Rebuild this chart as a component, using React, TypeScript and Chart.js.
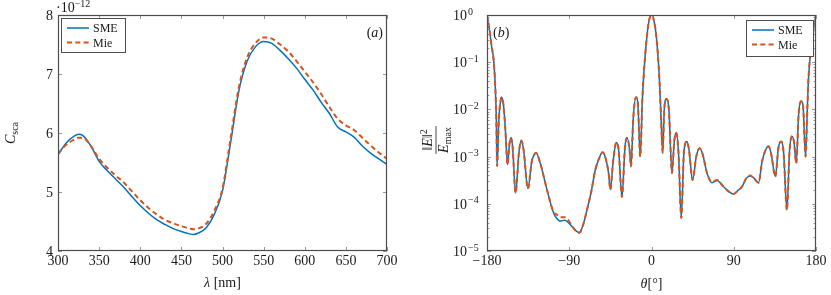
import React, { useEffect, useRef } from 'react';
import { Chart, registerables } from 'chart.js';
Chart.register(...registerables);

// ---------- Panel (a): scattering cross-section vs wavelength ----------
const lambdaNm = [300, 310, 320, 325, 330, 340, 350, 360, 370, 380, 390, 400, 410, 420, 430, 440, 450, 460, 465, 470, 480, 490, 500, 510, 520, 530, 540, 550, 560, 570, 580, 590, 600, 610, 620, 630, 640, 650, 660, 670, 680, 690, 700];
const smeCsca = [5.63, 5.83, 5.95, 5.98, 5.96, 5.78, 5.52, 5.36, 5.22, 5.08, 4.92, 4.77, 4.64, 4.53, 4.45, 4.38, 4.33, 4.29, 4.28, 4.30, 4.39, 4.62, 5.02, 5.85, 6.72, 7.22, 7.46, 7.55, 7.52, 7.40, 7.26, 7.10, 6.91, 6.73, 6.52, 6.33, 6.10, 6.02, 5.93, 5.78, 5.66, 5.56, 5.47];
const mieCsca = [5.65, 5.80, 5.89, 5.92, 5.92, 5.78, 5.56, 5.41, 5.28, 5.16, 5.01, 4.86, 4.73, 4.62, 4.53, 4.47, 4.42, 4.38, 4.37, 4.38, 4.46, 4.68, 5.06, 5.92, 6.78, 7.28, 7.52, 7.62, 7.60, 7.50, 7.38, 7.22, 7.04, 6.86, 6.66, 6.44, 6.24, 6.13, 6.05, 5.92, 5.79, 5.67, 5.56];
const lambdaTicks = [300, 350, 400, 450, 500, 550, 600, 650, 700];
const cscaTicks = [4, 5, 6, 7, 8];

// ---------- Panel (b): normalised far field vs angle ----------
const thetaDeg = [
  -180, -177, -175, -172.8, -171, -169.8, -169, -167, -165, -164, -162, -160, -157.5, -155.5, -153.8, -152,
  -148.7, -145, -142.5, -140, -135.2, -131, -128, -126.4, -121.7, -114.4, -107, -104, -100, -95, -92, -87,
  -83, -79, -75, -70.6, -66, -61.5, -57, -53.5, -50, -47, -45, -42, -38.5, -36, -32.3, -29,
  -26.8, -24, -22.4, -20, -17, -15, -12.3, -10, -8.6, -5.7, -3, 0, 3, 5.3,
  8.5, 10.5, 12.2, 14, 16.2, 19, 22.4, 25, 27.1, 29.5, 32.6, 35.5, 38.8, 41, 45, 49,
  52.6, 56, 60.7, 66.2, 71.7, 78.9, 84, 89.9, 95, 99, 104, 108, 112, 117.2, 121, 125,
  128.2, 131, 135.5, 139, 142, 144.5, 148.2, 151, 153.7, 156, 158.4, 161, 163.6, 165.7, 168.6, 170.5,
  171.9, 175.6, 178, 180,
];
const smeField = [
  1, 0.45, 0.22, 0.115, 0.032, 0.0063, 6.3e-4, 6.3e-3, 0.016, 0.018, 0.0126, 0.004, 6.8e-4, 1.8e-3, 2.5e-3, 1.6e-3,
  1.7e-4, 1.26e-3, 2.2e-3, 1.4e-3, 2.1e-4, 7.9e-4, 1.12e-3, 1.2e-3, 7.2e-4, 2.0e-4, 6.3e-5, 5.0e-5, 4.3e-5, 4.5e-5, 4.2e-5, 3.3e-5,
  2.7e-5, 2.45e-5, 3.5e-5, 7.4e-5, 1.78e-4, 5.2e-4, 9.5e-4, 1.23e-3, 8.9e-4, 4.5e-4, 2.0e-4, 7.9e-4, 2.0e-3, 1.4e-3, 1.4e-4, 1.6e-3,
  2.5e-3, 1.4e-3, 6.2e-4, 6.3e-3, 0.018, 0.014, 1.0e-3, 0.016, 0.05, 0.26, 0.71, 1, 0.71, 0.35,
  0.05, 6.3e-3, 1.2e-3, 0.01, 0.0166, 0.01, 4.5e-4, 2.2e-3, 3.2e-3, 1.26e-3, 5.0e-5, 1.26e-3, 2.1e-3, 1.4e-3, 3.2e-4, 1.0e-3,
  1.5e-3, 1.12e-3, 4.5e-4, 2.8e-4, 3.1e-4, 2.3e-4, 1.86e-4, 1.62e-4, 1.95e-4, 2.3e-4, 3.5e-4, 3.9e-4, 3.5e-4, 2.8e-4, 7.9e-4, 1.4e-3,
  1.66e-3, 1.12e-3, 3.8e-4, 1.6e-3, 2.1e-3, 1.26e-3, 7.4e-5, 1.26e-3, 2.7e-3, 2.0e-3, 7.2e-4, 7.9e-3, 0.0148, 0.0126, 1.0e-3, 0.01,
  0.05, 0.26, 0.63, 1,
];
const mieField = [
  1, 0.45, 0.22, 0.115, 0.032, 0.0063, 6.3e-4, 6.3e-3, 0.016, 0.018, 0.0126, 0.004, 6.8e-4, 1.8e-3, 2.5e-3, 1.6e-3,
  1.7e-4, 1.26e-3, 2.2e-3, 1.4e-3, 2.1e-4, 7.9e-4, 1.12e-3, 1.2e-3, 7.2e-4, 2.0e-4, 6.6e-5, 6.0e-5, 5.2e-5, 5.2e-5, 4.8e-5, 3.4e-5,
  2.7e-5, 2.45e-5, 3.5e-5, 7.4e-5, 1.78e-4, 5.2e-4, 9.5e-4, 1.23e-3, 8.9e-4, 4.5e-4, 2.0e-4, 7.9e-4, 2.0e-3, 1.4e-3, 1.4e-4, 1.6e-3,
  2.5e-3, 1.4e-3, 6.2e-4, 6.3e-3, 0.018, 0.014, 1.0e-3, 0.016, 0.05, 0.26, 0.71, 1, 0.71, 0.35,
  0.05, 6.3e-3, 1.2e-3, 0.01, 0.0166, 0.01, 4.5e-4, 2.2e-3, 3.2e-3, 1.26e-3, 5.0e-5, 1.26e-3, 2.1e-3, 1.4e-3, 3.2e-4, 1.0e-3,
  1.5e-3, 1.12e-3, 4.5e-4, 2.9e-4, 3.2e-4, 2.3e-4, 1.86e-4, 1.62e-4, 1.95e-4, 2.3e-4, 3.6e-4, 4.0e-4, 3.5e-4, 2.8e-4, 7.9e-4, 1.4e-3,
  1.66e-3, 1.12e-3, 3.8e-4, 1.6e-3, 2.1e-3, 1.26e-3, 7.4e-5, 1.26e-3, 2.7e-3, 2.0e-3, 7.2e-4, 7.9e-3, 0.0148, 0.0126, 1.0e-3, 0.01,
  0.05, 0.26, 0.63, 1,
];
const thetaTicks = [-180, -90, 0, 90, 180];
const fieldDecadeExps = [-5, -4, -3, -2, -1, 0];

const BLUE = '#0072BD';
const ORANGE = '#D95319';
const SERIF = '"Liberation Serif", "DejaVu Serif", serif';
const TXT = '#1a1a1a';
const DASH = [5, 3.3];
const FS = 14;
const SUB = 10;

type Seg = { t: string; it?: boolean; sz?: number; dy?: number };

function drawRich(ctx: CanvasRenderingContext2D, segs: Seg[], x: number, y: number, align: 'left' | 'center' | 'right', base = FS) {
  const font = (s: Seg) => `${s.it ? 'italic ' : ''}${s.sz ?? base}px ${SERIF}`;
  const widths = segs.map((s) => {
    ctx.font = font(s);
    return ctx.measureText(s.t).width;
  });
  const total = widths.reduce((a, b) => a + b, 0);
  let cx = align === 'left' ? x : align === 'center' ? x - total / 2 : x - total;
  ctx.textAlign = 'left';
  ctx.textBaseline = 'alphabetic';
  segs.forEach((s, i) => {
    ctx.font = font(s);
    ctx.fillText(s.t, cx, y + (s.dy ?? 0));
    cx += widths[i];
  });
  return total;
}

function measureRich(ctx: CanvasRenderingContext2D, segs: Seg[], base = FS) {
  let w = 0;
  segs.forEach((s) => {
    ctx.font = `${s.it ? 'italic ' : ''}${s.sz ?? base}px ${SERIF}`;
    w += ctx.measureText(s.t).width;
  });
  return w;
}

function drawFrame(ctx: CanvasRenderingContext2D, ca: any) {
  ctx.strokeStyle = '#4d4d4d';
  ctx.lineWidth = 1.2;
  ctx.setLineDash([]);
  ctx.strokeRect(ca.left + 0.5, ca.top + 0.5, ca.right - ca.left - 1, ca.bottom - ca.top - 1);
}

function drawLegend(ctx: CanvasRenderingContext2D, left: number, top: number, w: number, h: number) {
  ctx.save();
  ctx.fillStyle = '#fff';
  ctx.fillRect(left, top, w, h);
  ctx.strokeStyle = '#4d4d4d';
  ctx.lineWidth = 1;
  ctx.strokeRect(left + 0.5, top + 0.5, w, h);
  const rows = [
    { label: 'SME', color: BLUE, dash: [] as number[], lw: 1.5 },
    { label: 'Mie', color: ORANGE, dash: DASH, lw: 2 },
  ];
  rows.forEach((r, i) => {
    const y = top + 10 + i * 14.5;
    ctx.beginPath();
    ctx.strokeStyle = r.color;
    ctx.lineWidth = r.lw;
    ctx.setLineDash(r.dash);
    ctx.moveTo(left + 6, y);
    ctx.lineTo(left + 28, y);
    ctx.stroke();
    ctx.setLineDash([]);
    ctx.fillStyle = TXT;
    drawRich(ctx, [{ t: r.label }], left + 32, y + 4, 'left', 12);
  });
  ctx.restore();
}

const panelAPlugin = {
  id: 'panelA',
  afterDraw(chart: any) {
    const { ctx, chartArea: ca } = chart;
    const x = chart.scales.x;
    const y = chart.scales.y;
    ctx.save();
    ctx.strokeStyle = '#9a9a9a';
    ctx.lineWidth = 1;
    lambdaTicks.forEach((v) => {
      const px = Math.round(x.getPixelForValue(v)) + 0.5;
      ctx.beginPath();
      ctx.moveTo(px, ca.bottom);
      ctx.lineTo(px, ca.bottom - 4);
      ctx.moveTo(px, ca.top);
      ctx.lineTo(px, ca.top + 4);
      ctx.stroke();
    });
    cscaTicks.forEach((v) => {
      const py = Math.round(y.getPixelForValue(v)) + 0.5;
      ctx.beginPath();
      ctx.moveTo(ca.left, py);
      ctx.lineTo(ca.left + 4, py);
      ctx.moveTo(ca.right, py);
      ctx.lineTo(ca.right - 4, py);
      ctx.stroke();
    });
    drawFrame(ctx, ca);
    ctx.fillStyle = TXT;
    lambdaTicks.forEach((v) => {
      drawRich(ctx, [{ t: String(v) }], x.getPixelForValue(v), ca.bottom + 14, 'center');
    });
    cscaTicks.forEach((v) => {
      drawRich(ctx, [{ t: String(v) }], ca.left - 5, y.getPixelForValue(v) + 5, 'right');
    });
    // exponent marker
    drawRich(ctx, [{ t: '·10' }, { t: '−12', sz: SUB, dy: -5 }], ca.left - 2, 12, 'left');
    // axis titles
    drawRich(ctx, [{ t: 'λ', it: true }, { t: ' [nm]' }], (ca.left + ca.right) / 2, ca.bottom + 36, 'center');
    ctx.save();
    ctx.translate(15, 133);
    ctx.rotate(-Math.PI / 2);
    drawRich(ctx, [{ t: 'C', it: true }, { t: 'sca', sz: SUB, dy: 3 }], 0, 0, 'center');
    ctx.restore();
    // panel tag
    drawRich(ctx, [{ t: '(' }, { t: 'a', it: true }, { t: ')' }], ca.right - 4, 37, 'right');
    drawLegend(ctx, ca.left + 3, ca.top + 3, 64, 34);
    ctx.restore();
  },
};

const panelBPlugin = {
  id: 'panelB',
  afterDraw(chart: any) {
    const { ctx, chartArea: ca } = chart;
    const x = chart.scales.x;
    const y = chart.scales.y;
    ctx.save();
    ctx.strokeStyle = '#9a9a9a';
    ctx.lineWidth = 1;
    thetaTicks.forEach((v) => {
      const px = Math.round(x.getPixelForValue(v)) + 0.5;
      ctx.beginPath();
      ctx.moveTo(px, ca.bottom);
      ctx.lineTo(px, ca.bottom - 4);
      ctx.moveTo(px, ca.top);
      ctx.lineTo(px, ca.top + 4);
      ctx.stroke();
    });
    fieldDecadeExps.forEach((e) => {
      const py = Math.round(y.getPixelForValue(Math.pow(10, e))) + 0.5;
      ctx.beginPath();
      ctx.moveTo(ca.left, py);
      ctx.lineTo(ca.left + 4, py);
      ctx.moveTo(ca.right, py);
      ctx.lineTo(ca.right - 4, py);
      ctx.stroke();
      if (e < 0) {
        for (let m = 2; m <= 9; m++) {
          const pm = Math.round(y.getPixelForValue(m * Math.pow(10, e))) + 0.5;
          ctx.beginPath();
          ctx.moveTo(ca.left, pm);
          ctx.lineTo(ca.left + 2.5, pm);
          ctx.moveTo(ca.right, pm);
          ctx.lineTo(ca.right - 2.5, pm);
          ctx.stroke();
        }
      }
    });
    drawFrame(ctx, ca);
    ctx.fillStyle = TXT;
    thetaTicks.forEach((v) => {
      const s = v < 0 ? '−' + Math.abs(v) : String(v);
      drawRich(ctx, [{ t: s }], x.getPixelForValue(v), ca.bottom + 14, 'center');
    });
    fieldDecadeExps.forEach((e) => {
      const py = y.getPixelForValue(Math.pow(10, e)) + 5;
      drawRich(ctx, [{ t: '10' }], ca.left - 20, py, 'right');
      const sup = e < 0 ? '−' + Math.abs(e) : String(e);
      drawRich(ctx, [{ t: sup, sz: SUB }], ca.left - 19, py - 5.5, 'left');
    });
    drawRich(ctx, [{ t: 'θ', it: true }, { t: '[°]' }], (ca.left + ca.right) / 2, ca.bottom + 37, 'center');
    // fraction title
    ctx.save();
    ctx.translate(ca.left - 51, 140);
    ctx.rotate(-Math.PI / 2);
    const num: Seg[] = [{ t: '‖' }, { t: 'E', it: true }, { t: '‖' }, { t: '2', sz: SUB, dy: -5.5 }];
    const den: Seg[] = [{ t: 'E', it: true }, { t: 'max', sz: SUB, dy: 3 }];
    const wn = measureRich(ctx, num);
    const wd = measureRich(ctx, den);
    drawRich(ctx, num, 0, -4, 'center');
    drawRich(ctx, den, 0, 11.5, 'center');
    const bw = Math.max(wn, wd) + 2;
    ctx.strokeStyle = TXT;
    ctx.lineWidth = 0.8;
    ctx.beginPath();
    ctx.moveTo(-bw / 2, 0);
    ctx.lineTo(bw / 2, 0);
    ctx.stroke();
    ctx.restore();
    drawRich(ctx, [{ t: '(' }, { t: 'b', it: true }, { t: ')' }], ca.left + 6, 37, 'left');
    drawLegend(ctx, ca.right - 70, ca.top + 5, 67, 36);
    ctx.restore();
  },
};

function makeChart(canvas: HTMLCanvasElement, xs: number[], a: number[], b: number[], xOpt: any, yOpt: any, yWidth: number, padRight: number, plugin: any) {
  return new Chart(canvas, {
    type: 'line',
    data: {
      datasets: [
        {
          label: 'SME',
          data: xs.map((v, i) => ({ x: v, y: a[i] })),
          borderColor: BLUE,
          borderWidth: 1.5,
          pointRadius: 0,
          cubicInterpolationMode: 'monotone',
          fill: false,
          order: 2,
        },
        {
          label: 'Mie',
          data: xs.map((v, i) => ({ x: v, y: b[i] })),
          borderColor: ORANGE,
          borderWidth: 2,
          borderDash: DASH,
          pointRadius: 0,
          cubicInterpolationMode: 'monotone',
          fill: false,
          order: 1,
        },
      ],
    },
    options: {
      animation: false,
      responsive: false,
      maintainAspectRatio: false,
      layout: { padding: { top: 15, right: padRight, left: 0, bottom: 0 } },
      plugins: { legend: { display: false }, tooltip: { enabled: false } },
      scales: {
        x: {
          type: 'linear',
          ...xOpt,
          grid: { display: false },
          border: { display: false },
          ticks: { display: false },
          afterFit: (s: any) => {
            s.height = 44;
          },
        },
        y: {
          ...yOpt,
          grid: { display: false },
          border: { display: false },
          ticks: { display: false },
          afterFit: (s: any) => {
            s.width = yWidth;
          },
        },
      },
    } as any,
    plugins: [plugin],
  });
}

export default function App() {
  const refA = useRef<HTMLCanvasElement>(null);
  const refB = useRef<HTMLCanvasElement>(null);
  useEffect(() => {
    const cA = makeChart(refA.current!, lambdaNm, smeCsca, mieCsca, { min: 300, max: 700 }, { type: 'linear', min: 4, max: 8 }, 58, 28, panelAPlugin);
    const cB = makeChart(refB.current!, thetaDeg, smeField, mieField, { min: -180, max: 180 }, { type: 'logarithmic', min: 1e-5, max: 1 }, 72, 15, panelBPlugin);
    return () => {
      cA.destroy();
      cB.destroy();
    };
  }, []);
  return (
    <div style={{ position: 'absolute', left: 0, top: 0, width: 831, height: 295, background: '#fff' }}>
      <canvas ref={refA} width={415} height={295} style={{ position: 'absolute', left: 0, top: 0, width: 415, height: 295 }} />
      <canvas ref={refB} width={416} height={295} style={{ position: 'absolute', left: 415, top: 0, width: 416, height: 295 }} />
    </div>
  );
}
